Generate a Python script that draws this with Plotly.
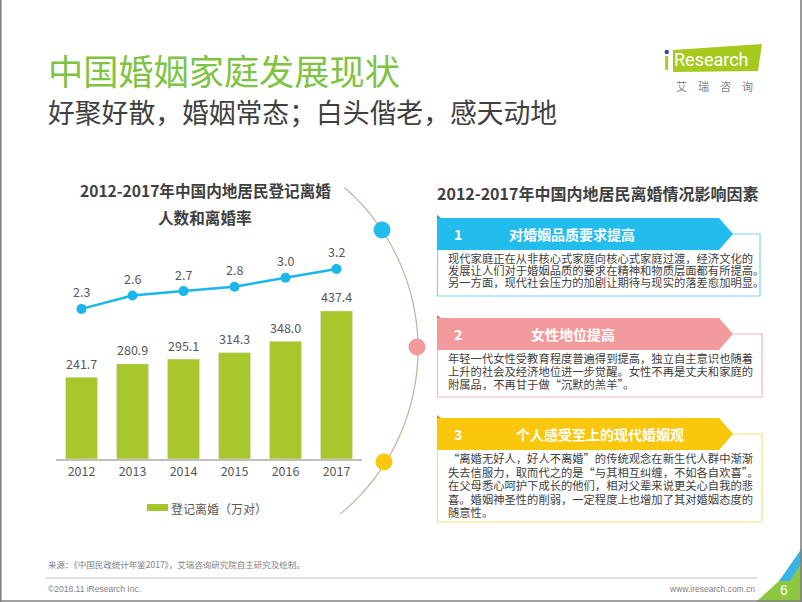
import numpy as np
import plotly.graph_objects as go

W, H = 802, 602
def X(px): return px / W
def Y(py): return 1 - py / H

# ---------------- data ----------------
years = ["2012", "2013", "2014", "2015", "2016", "2017"]
divorces = [241.7, 280.9, 295.1, 314.3, 348.0, 437.4]   # 万对
rates = [2.3, 2.6, 2.7, 2.8, 3.0, 3.2]                  # 离婚率 ‰

title = "中国婚姻家庭发展现状"
subtitle = "好聚好散，婚姻常态；白头偕老，感天动地"
left_title = ["2012-2017年中国内地居民登记离婚", "人数和离婚率"]
legend_label = "登记离婚（万对）"
right_title = "2012-2017年中国内地居民离婚情况影响因素"

factor_heads = ["对婚姻品质要求提高", "女性地位提高", "个人感受至上的现代婚姻观"]
factor_texts = [
    ["现代家庭正在从非核心式家庭向核心式家庭过渡，经济文化的",
     "发展让人们对于婚姻品质的要求在精神和物质层面都有所提高。",
     "另一方面，现代社会压力的加剧让期待与现实的落差愈加明显。"],
    ["年轻一代女性受教育程度普遍得到提高，独立自主意识也随着",
     "上升的社会及经济地位进一步觉醒。女性不再是丈夫和家庭的",
     "附属品，不再甘于做“沉默的羔羊”。"],
    ["“离婚无好人，好人不离婚”的传统观念在新生代人群中渐渐",
     "失去信服力，取而代之的是“与其相互纠缠，不如各自欢喜”。",
     "在父母悉心呵护下成长的他们，相对父辈来说更关心自我的悲",
     "喜。婚姻神圣性的削弱，一定程度上也增加了其对婚姻态度的",
     "随意性。"],
]
source = "来源：《中国民政统计年鉴2017》，艾瑞咨询研究院自主研究及绘制。"
copyright_txt = "©2018.11 iResearch Inc."
website = "www.iresearch.com.cn"
page_no = "6"

# ---------------- styles ----------------
FONT = "Noto Sans CJK SC, Microsoft YaHei, sans-serif"
GREEN_T = "#80C342"
BAR = "#A8C72C"
LINE = "#1DB6EA"
GRAY = "#404040"
LGRAY = "#595959"
colors = ["#22BDED", "#F39A9D", "#F9C70C"]
dark = ["#1596C0", "#C97377", "#C99A00"]
boxline = ["#7DD3F0", "#F3B5B8", "#F5DF7A"]

fig = go.Figure()

fig.add_trace(go.Bar(
    x=years, y=divorces, marker_color=BAR, width=0.63,
    name=legend_label, showlegend=False, hoverinfo="skip"))
fig.add_trace(go.Scatter(
    x=years, y=rates, yaxis="y2", mode="lines+markers",
    line=dict(color=LINE, width=2.5), marker=dict(color=LINE, size=10),
    showlegend=False, hoverinfo="skip", cliponaxis=False))

ann = []
for i, v in enumerate(divorces):
    ann.append(dict(x=i, y=v, xref="x", yref="y", text=f"{v:.1f}", showarrow=False,
                    yshift=14, font=dict(size=12.5, color=LGRAY, family=FONT)))
for i, v in enumerate(rates):
    ann.append(dict(x=i, y=v, xref="x", yref="y2", text=f"{v:.1f}", showarrow=False,
                    yshift=17, font=dict(size=12.5, color=LGRAY, family=FONT)))

def txt(x, y, s, size, color, bold=False, xanchor="left", family=FONT):
    if bold:
        s = f"<b>{s}</b>"
    ann.append(dict(x=X(x), y=Y(y), xref="paper", yref="paper", text=s, showarrow=False,
                    xanchor=xanchor, yanchor="middle",
                    font=dict(size=size, color=color, family=family)))

shapes = []
def poly(pts, fill, line=None, lw=0):
    path = "M " + " L ".join(f"{X(a):.5f},{Y(b):.5f}" for a, b in pts) + " Z"
    shapes.append(dict(type="path", xref="paper", yref="paper", path=path,
                       fillcolor=fill, line=dict(color=line or fill, width=lw), layer="above"))
def rect(x0, y0, x1, y1, line, lw=1, fill="rgba(0,0,0,0)"):
    shapes.append(dict(type="rect", xref="paper", yref="paper", x0=X(x0), x1=X(x1),
                       y0=Y(y1), y1=Y(y0), line=dict(color=line, width=lw), fillcolor=fill,
                       layer="above"))
def circle(cx, cy, r, fill):
    shapes.append(dict(type="circle", xref="paper", yref="paper", x0=X(cx - r), x1=X(cx + r),
                       y0=Y(cy + r), y1=Y(cy - r), fillcolor=fill, line=dict(width=0),
                       layer="above"))
def hline(x0, x1, y, color, lw=1):
    shapes.append(dict(type="line", xref="paper", yref="paper", x0=X(x0), x1=X(x1),
                       y0=Y(y), y1=Y(y), line=dict(color=color, width=lw)))

# header
txt(46, 70, title, 35.2, GREEN_T)
txt(46, 111, subtitle, 26.8, GRAY)

# logo
poly([(673, 50), (762, 44), (758, 71), (673, 72)], "#A6C91E")
rect(665.2, 56, 668.2, 70, "#A6C91E", lw=0, fill="#A6C91E")
circle(666.7, 52, 2.2, "#2D4E9E")
txt(672, 60, "Research", 18, "white", family="Roboto, Arial, sans-serif")
txt(714, 86, "艾　瑞　咨　询", 11, "#7F7F7F", xanchor="center")

# left chart title and legend
txt(205, 190, left_title[0], 15.6, GRAY, bold=True, xanchor="center")
txt(205, 217, left_title[1], 15.6, GRAY, bold=True, xanchor="center")
rect(147, 504, 168, 511, BAR, lw=0, fill=BAR)
txt(169, 508, legend_label, 12, LGRAY)

# arc
cx, cy, R = 204, 349, 214
ang = np.linspace(np.deg2rad(-49), np.deg2rad(50.5), 120)
arc_pts = [(cx + R * np.cos(a), cy + R * np.sin(a)) for a in ang]
shapes.append(dict(type="path", xref="paper", yref="paper",
                   path="M " + " L ".join(f"{X(a):.5f},{Y(b):.5f}" for a, b in arc_pts),
                   line=dict(color="#BDB39E", width=1.2)))
circle(382, 230, 8.5, colors[0])
circle(417, 347, 8.5, colors[1])
circle(384, 462, 8.5, colors[2])

# right title
txt(597, 193, right_title, 16, GRAY, bold=True, xanchor="center")

# factor boxes
banners = [(218, 250), (318, 350), (418, 450)]
bodies = [(234, 296, 760), (334, 397, 762), (434, 522, 762)]
line_y0 = [258, 358, 458]
line_step = [12.2, 13.0, 13.5]
head_x = [572, 573, 600]
for i in range(3):
    by0, by1, bx1 = bodies[i]
    rect(437.5, by0, bx1, by1, boxline[i], lw=1.2, fill="white")
    t0, t1 = banners[i]
    poly([(437, t0), (719, t0), (733, (t0 + t1) / 2), (719, t1), (437, t1)], colors[i])
    poly([(437, t0 - 3), (441, t0), (437, t0)], dark[i])
    txt(452, (t0 + t1) / 2, str(i + 1), 14, "white", bold=True)
    txt(head_x[i], (t0 + t1) / 2, factor_heads[i], 14, "white", bold=True, xanchor="center")
    for k, s in enumerate(factor_texts[i]):
        txt(446, line_y0[i] + k * line_step[i], s, 11.3, GRAY)

# footer
txt(46, 564, source, 8.5, "#7F7F7F")
hline(46, 757, 578, "#BFBFBF", 1.2)
txt(46, 589, copyright_txt, 8.5, "#7F7F7F", family="Arial, Liberation Sans, sans-serif")
txt(757, 589, website, 8.5, "#7F7F7F", xanchor="right", family="Arial, Liberation Sans, sans-serif")
poly([(756, 602), (802, 602), (802, 560)], "#8DC63F")
poly([(779, 581), (802, 548), (802, 562), (790, 581)], "#37B3E6")
txt(784, 590, page_no, 14, "white", xanchor="center", family="Arial, Liberation Sans, sans-serif")

# slide frame
shapes.append(dict(type="line", xref="paper", yref="paper", x0=X(0.8), x1=X(0.8), y0=0, y1=1,
                   line=dict(color="#808080", width=1.6)))
shapes.append(dict(type="line", xref="paper", yref="paper", x0=X(801), x1=X(801), y0=0, y1=1,
                   line=dict(color="#808080", width=1.6)))
shapes.append(dict(type="line", xref="paper", yref="paper", x0=0, x1=1, y0=Y(601), y1=Y(601),
                   line=dict(color="#808080", width=1.6)))

# axes: bar scale 0.3385 px/unit, baseline 459; line 44.4 px/unit
dom = [Y(459), Y(250)]
fig.update_layout(
    width=W, height=H, margin=dict(l=0, r=0, t=0, b=0),
    paper_bgcolor="white", plot_bgcolor="white",
    bargap=0.37, showlegend=False,
    xaxis=dict(type="category", domain=[X(56), X(362)], range=[-0.5, 5.5], showline=True,
               linecolor="#C0C0C0", linewidth=1.5, ticks="", showgrid=False, zeroline=False,
               tickfont=dict(size=12.5, color=LGRAY, family=FONT), fixedrange=True),
    yaxis=dict(domain=dom, range=[0, 617.4], visible=False, fixedrange=True),
    yaxis2=dict(domain=dom, range=[-1.081, 3.626], overlaying="y", visible=False, fixedrange=True),
    annotations=ann, shapes=shapes,
)

fig.write_html("out.html", config={"displayModeBar": False},
               post_script="document.body.style.margin='0';document.body.style.overflow='hidden';")
